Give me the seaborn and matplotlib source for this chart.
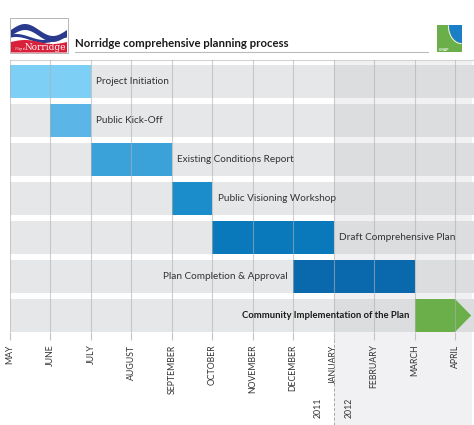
import numpy as np
import pandas as pd
import matplotlib.pyplot as plt
import seaborn as sns
from matplotlib.patches import Polygon, Rectangle

# donnees du planning (mois 0 = mai 2011)
tasks = ["Project Initiation", "Public Kick-Off", "Existing Conditions Report",
         "Public Visioning Workshop", "Draft Comprehensive Plan",
         "Plan Completion & Approval", "Community Implementation of the Plan"]
start = [0, 1, 2, 4, 5, 7, 10]
end = [2, 2, 4, 5, 8, 10, 11]
bar_colors = ["#7dcff5", "#5bb5e6", "#3ba1d9", "#1b8dcb", "#0a79bb", "#0a69ac", "#6aaf4a"]
months = ["MAY", "JUNE", "JULY", "AUGUST", "SEPTEMBER", "OCTOBER", "NOVEMBER",
          "DECEMBER", "JANUARY", "FEBRUARY", "MARCH", "APRIL"]
year_split = 8  # janvier 2012
years = ["2011", "2012"]

sns.set_theme(style="white")
plt.rcParams['font.family'] = ['Lato', 'DejaVu Sans']

W, H = 474, 425
fig = plt.figure(figsize=(W / 100, H / 100), dpi=100)
ax = fig.add_axes([10 / W, (H - 332) / H, (W - 10) / W, (332 - 60) / H])
ax.set_facecolor("none")

xmax = 11.47
bh = 0.846
df = pd.DataFrame({"task": tasks, "full": xmax})

# fond des lignes
sns.barplot(data=df, x="full", y="task", orient="h", color="#e6e7e8",
            saturation=1, width=bh, linewidth=0, ax=ax, zorder=1)
ax.barh(range(len(tasks)), xmax - year_split, left=year_split, height=bh,
        color="#dcdddf", linewidth=0, zorder=1.1)
# zone 2012 (jusqu'en bas de l'image)
ax.axvspan(year_split, xmax - 0.05, ymin=-0.342, ymax=1, color="#f1f1f3",
           linewidth=0, clip_on=False, zorder=0)

# barres des taches
for i, (s, e, c) in enumerate(zip(start, end, bar_colors)):
    ax.barh(i, e - s, left=s, height=bh, color=c, linewidth=0, zorder=1.5)
# fleche de la derniere tache
n = len(tasks) - 1
ax.add_patch(Polygon([[end[n], n - bh / 2], [end[n] + 0.4, n], [end[n], n + bh / 2]],
                     closed=True, color=bar_colors[n], linewidth=0, zorder=1.5))

# etiquettes
pad = 0.13
for i, t in enumerate(tasks):
    if i < 5:
        ax.text(end[i] + pad, i, t, ha="left", va="center", fontsize=7.2, color="#333333", zorder=3)
    elif i < n:
        ax.text(start[i] - pad, i, t, ha="right", va="center", fontsize=7.2, color="#333333", zorder=3)
    else:
        ax.text(start[i] - pad, i, t, ha="right", va="center", fontsize=6.8, color="#1a1a1a",
                fontweight="bold", zorder=3)

ax.set_xlim(0, xmax)
ax.set_ylim(6.423, -0.551)
ax.set_xticks(range(len(months)))
ax.set_xticklabels(months, rotation=90, fontsize=6.3, color="#333333", va="top")
ax.set_yticks([])
ax.set_xlabel("")
ax.set_ylabel("")
ax.tick_params(axis="x", direction="out", length=6, width=0.8, color="#c4c4c4", pad=3, bottom=True)
ax.set_axisbelow(False)
ax.grid(axis="x", color="#b0b0b0", alpha=0.6, linewidth=0.8)
ax.grid(axis="y", visible=False)
for side in ["left", "right", "bottom"]:
    ax.spines[side].set_visible(False)
ax.spines["top"].set_color("#d4d4d4")
ax.spines["top"].set_linewidth(0.8)

# separation 2011 / 2012
ax.axvline(year_split, ymin=-0.342, ymax=-0.03, color="#a8a8a8", linewidth=0.7,
           linestyle=(0, (3, 2)), clip_on=False, zorder=3)
ax.text(year_split - 0.38, 6.423 + 1.95, years[0], rotation=90, ha="center", va="center",
        fontsize=6.3, color="#333333")
ax.text(year_split + 0.38, 6.423 + 1.95, years[1], rotation=90, ha="center", va="center",
        fontsize=6.3, color="#333333")

# en-tete : titre et logos (coordonnees pixels)
deco = fig.add_axes([0, 0, 1, 1], zorder=5)
deco.set_xlim(0, W)
deco.set_ylim(H, 0)
deco.axis("off")
deco.set_facecolor("none")
deco.text(75, 43, "Norridge comprehensive planning process", fontsize=8.2,
          fontweight="bold", color="#1a1a1a", va="center", ha="left")
deco.plot([75, 428], [52, 52], color="#bbbbbb", linewidth=0.8)

# logo Norridge
deco.add_patch(Rectangle((10, 18), 58, 35, facecolor="white", edgecolor="#aaaaaa", linewidth=0.6))
xs = np.linspace(11, 67, 60)
top1 = 30 - 6 * np.sin((xs - 11) / 56 * 2 * np.pi)
deco.add_patch(Polygon(np.c_[np.r_[xs, xs[::-1]], np.r_[top1, top1[::-1] + 6]], color="#2a3a8f", linewidth=0))
top2 = 37 - 3 * np.sin((xs - 11) / 56 * 2 * np.pi + 1)
deco.add_patch(Polygon(np.c_[np.r_[xs, xs[::-1]], np.r_[top2, top2[::-1] + 3]], color="#2a3a8f", linewidth=0))
red_top = 42 - 2 * np.sin((xs - 11) / 56 * 2 * np.pi)
deco.add_patch(Polygon(np.c_[np.r_[xs, xs[::-1]], np.r_[red_top, np.full_like(xs, 52.5)]],
                       color="#d8203a", linewidth=0))
deco.text(66, 47, "Norridge", fontsize=6.4, family="DejaVu Serif", color="white", ha="right", va="center")
deco.text(25, 48.5, "Village of", fontsize=1.8, color="white", ha="right", va="center")

# logo CMAP
deco.add_patch(Rectangle((437, 25), 25, 27, facecolor="#6aaf4a", linewidth=0))
ang = np.linspace(0, np.pi / 2, 30)
arc = np.c_[462 - 13 * np.cos(ang), 25 + 18 * np.sin(ang)]
deco.add_patch(Polygon(np.r_[[[449, 25]], arc, [[462, 43], [462, 25]]], color="#1a7fc6", linewidth=0))
deco.plot(arc[:, 0] - 0.6, arc[:, 1] + 0.6, color="white", linewidth=0.6)
deco.text(439, 49.5, "CMAP", fontsize=2.6, color="white", ha="left", va="center", fontweight="bold")

fig.savefig("out.png", dpi=100)
